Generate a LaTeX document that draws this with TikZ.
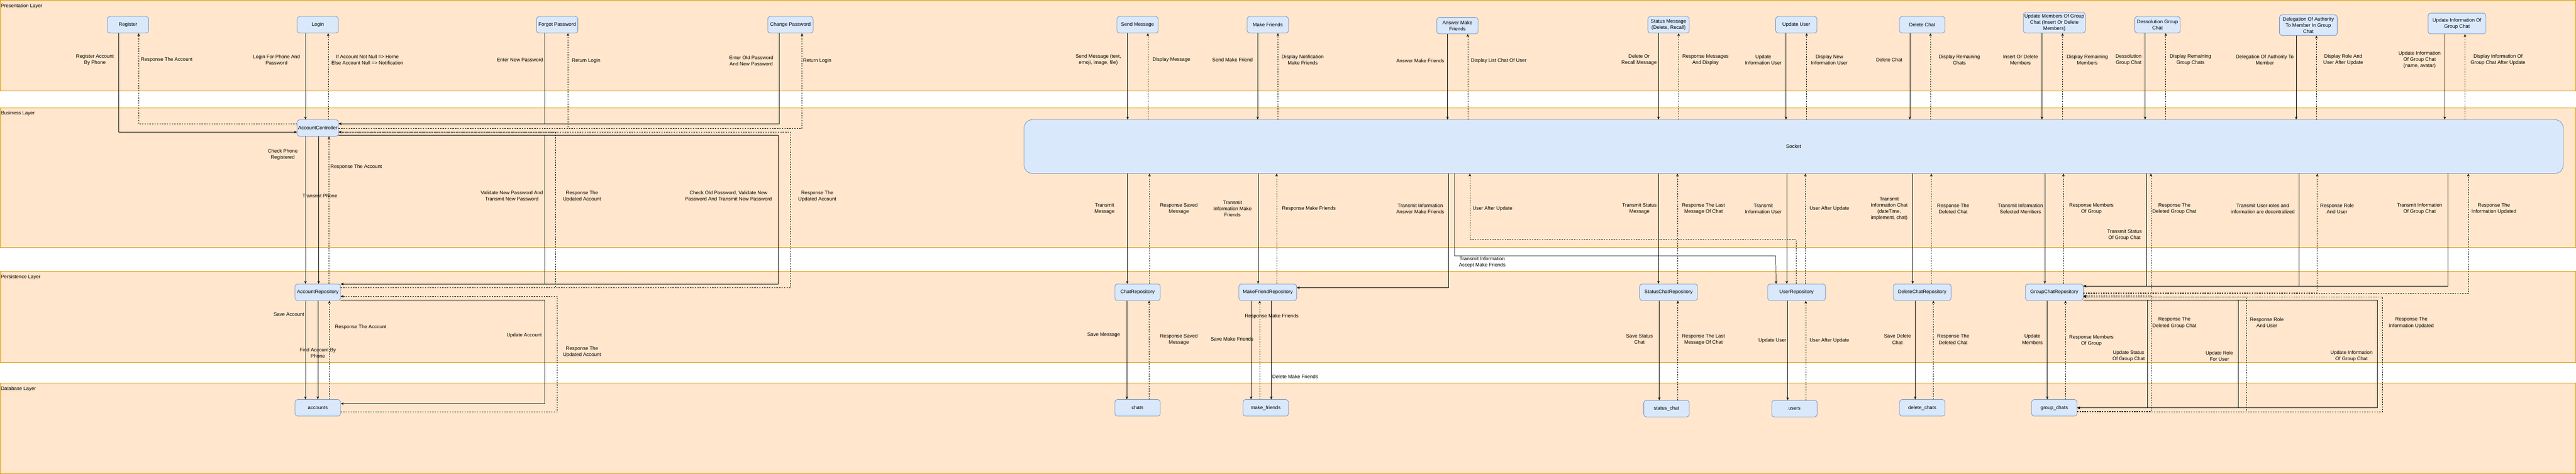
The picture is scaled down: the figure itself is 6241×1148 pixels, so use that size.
\documentclass[tikz,border=0pt]{standalone}
\usepackage{fontspec}
\setmainfont{Liberation Sans}
\usetikzlibrary{arrows.meta}
\definecolor{layerfill}{HTML}{FFE6CC}
\definecolor{layerline}{HTML}{D79B00}
\definecolor{boxfill}{HTML}{DAE8FC}
\definecolor{boxline}{HTML}{6C8EBF}
\newcommand{\dfont}{\fontsize{12}{15}\selectfont}
\newcommand{\elab}[4]{\node[lbl] (#1) at (#2,#3) {#4};}
\begin{document}
\begin{tikzpicture}[x=1pt,y=-1pt,
  layer/.style={draw=layerline, fill=layerfill, line width=1.2pt},
  box/.style={draw=boxline, fill=boxfill, rounded corners=6pt, line width=1pt, align=center, inner sep=0pt, font=\dfont, minimum height=40pt, minimum width=100pt},
  lbl/.style={align=center, inner sep=0pt, font=\dfont},
  flow/.style={draw=black, line width=0.9pt, -{Stealth[length=7pt,width=6pt]}},
  resp/.style={flow, dashed}]
\useasboundingbox (0,0) rectangle (6241,1148);
% layers
\path[layer] (0.6,0.6) rectangle (6240,220.5);
\path[layer] (0.6,261) rectangle (6240,600);
\path[layer] (0.6,657.5) rectangle (6240,878);
\path[layer] (0.6,927.5) rectangle (6240,1147.4);
\node[lbl, anchor=west] (Lpres) at (2,15) {Presentation Layer};
\node[lbl, anchor=west] (Lbus) at (2,275) {Business Layer};
\node[lbl, anchor=west] (Lper) at (2,672) {Persistence Layer};
\node[lbl, anchor=west] (Ldb) at (2,942) {Database Layer};
% presentation nodes
\node[box] (register) at (310,60) {Register};
\node[box] (login) at (770,60) {Login};
\node[box] (forgot) at (1350,60) {Forgot Password};
\node[box, minimum width=110pt] (changepw) at (1915,60) {Change Password};
\node[box] (sendmsg) at (2756,60) {Send Message};
\node[box] (makefr) at (3071.5,60) {Make Friends};
\node[box] (answer) at (3531,62) {Answer Make\\Friends};
\node[box] (status) at (4042.5,60) {Status Message\\(Delete, Recall)};
\node[box] (updateuser) at (4352,60) {Update User};
\node[box, minimum width=110pt] (deletechat) at (4657,60) {Delete Chat};
\node[box, minimum width=150pt, minimum height=50pt] (updmembers) at (4977,55) {Update Members Of Group\\Chat (Insert Or Delete\\Members)};
\node[box, minimum width=110pt] (dessolution) at (5227,60) {Dessolution Group\\Chat};
\node[box, minimum width=140pt, minimum height=50pt] (delegation) at (5592.5,61) {Delegation Of Authority\\To Member In Group\\Chat};
\node[box, minimum width=140pt, minimum height=50pt] (updinfo) at (5952.5,57) {Update Information Of\\Group Chat};
% business nodes
\node[box] (ac) at (770,310) {AccountController};
\node[box, rounded corners=20pt, minimum width=3729pt, minimum height=130pt] (socket) at (4345.5,355) {Socket};
% persistence nodes
\node[box, minimum width=110pt] (ar) at (770,708) {AccountRepository};
\node[box, minimum width=110pt] (chatrepo) at (2756,708) {ChatRepository};
\node[box, minimum width=140pt] (mfr) at (3071.5,708) {MakeFriendRepository};
\node[box, minimum width=140pt] (scr) at (4042.5,708) {StatusChatRepository};
\node[box, minimum width=140pt] (userrepo) at (4352.5,708) {UserRepository};
\node[box, minimum width=140pt] (dcr) at (4657,708) {DeleteChatRepository};
\node[box, minimum width=140pt] (gcr) at (4977,708) {GroupChatRepository};
% database nodes
\node[box, minimum width=110pt] (accounts) at (770,988) {accounts};
\node[box, minimum width=110pt] (chats) at (2756,988) {chats};
\node[box, minimum width=110pt] (makefriends) at (3066.5,988) {make\_friends};
\node[box, minimum width=110pt] (statuschat) at (4037.5,990) {status\_chat};
\node[box, minimum width=110pt] (users) at (4347.5,990) {users};
\node[box, minimum width=110pt] (deletechats) at (4657,988) {delete\_chats};
\node[box, minimum width=110pt] (groupchats) at (4977,988) {group\_chats};

% ===== account edges =====
\draw[flow] (register.south -| 288,0) |- (ac.west |- 0,320);
\draw[resp] (ac.west |- 0,300) -| (register.south -| 336,0);
\draw[flow] (login.south -| 740,0) -- (ac.north -| 740,0);
\draw[resp] (ac.north -| 795,0) -- (login.south -| 795,0);
\draw[flow] (forgot.south -| 1320,0) |- (ac.east |- 0,300);
\draw[resp] (ac.east |- 0,311) -| (forgot.south -| 1376,0);
\draw[flow] (changepw.south -| 1888,0) |- (ac.east |- 0,300);
\draw[resp] (ac.east |- 0,311) -| (changepw.south -| 1943,0);
\draw[flow] (ac.east |- 0,328) -| (1320,500) |- (ar.east |- 0,688);
\draw[resp] (ar.east |- 0,697) -| (1346,500) |- (ac.east |- 0,320);
\draw[flow] (ac.east |- 0,328) -| (1885,500) |- (ar.east |- 0,688);
\draw[resp] (ar.east |- 0,697) -| (1915,500) |- (ac.east |- 0,320);
\draw[flow] (ac.south -| 740,0) -- (ar.north -| 740,0);
\draw[flow] (ac.south -| 772,0) -- (ar.north -| 772,0);
\draw[resp] (ar.north -| 797,0) -- (ac.south -| 797,0);
\draw[flow] (ar.south -| 740,0) -- (accounts.north -| 740,0);
\draw[flow] (ar.south -| 770,0) -- (accounts.north -| 770,0);
\draw[resp] (accounts.north -| 798,0) -- (ar.south -| 798,0);
\draw[flow] (ar.east |- 0,727) -| (1320,850) |- (accounts.east |- 0,978);
\draw[resp] (accounts.east |- 0,998) -| (1350,850) |- (ar.east |- 0,718);

\elab{a1}{230}{145}{Register Account\\By Phone}
\elab{a2}{404}{145}{Response The Account}
\elab{a3}{670}{145}{Login For Phone And\\Password}
\elab{a4}{890}{145}{If Account Not Null => Home\\Else Account Null => Notification}
\elab{a5}{1260}{145}{Enter New Password}
\elab{a6}{1420}{147}{Return Login}
\elab{a7}{1820}{147}{Enter Old Password\\And New Password}
\elab{a8}{1980}{147}{Return Login}
\elab{a9}{1240}{475}{Validate New Password And\\Transmit New Password}
\elab{a10}{1410}{475}{Response The\\Updated Account}
\elab{a11}{1765}{475}{Check Old Password, Validate New\\Password And Transmit New Password}
\elab{a12}{1980}{475}{Response The\\Updated Account}
\elab{a13}{685}{375}{Check Phone\\Registered}
\elab{a14}{775}{475}{Transmit Phone}
\elab{a15}{863}{405}{Response The Account}
\elab{a16}{700}{762}{Save Account}
\elab{a17}{770}{855}{Find Account By\\Phone}
\elab{a18}{874}{792}{Response The Account}
\elab{a19}{1270}{812}{Update Account}
\elab{a20}{1410}{852}{Response The\\Updated Account}

% ===== chat =====
\draw[flow] (sendmsg.south -| 2732,0) -- (socket.north -| 2732,0);
\draw[resp] (socket.north -| 2781,0) -- (sendmsg.south -| 2781,0);
\draw[flow] (socket.south -| 2731,0) -- (chatrepo.north -| 2731,0);
\draw[resp] (chatrepo.north -| 2785,0) -- (socket.south -| 2785,0);
\draw[flow] (chatrepo.south -| 2730,0) -- (chats.north -| 2730,0);
\draw[resp] (chats.north -| 2784,0) -- (chatrepo.south -| 2784,0);
\elab{c1}{2661}{145}{Send Message (text,\\emoji, image, file)}
\elab{c2}{2838}{145}{Display Message}
\elab{c3}{2676}{505}{Transmit\\Message}
\elab{c4}{2856}{505}{Response Saved\\Message}
\elab{c5}{2674}{812}{Save Message}
\elab{c6}{2856}{822}{Response Saved\\Message}

% ===== make friends =====
\draw[flow] (makefr.south -| 3047,0) -- (socket.north -| 3047,0);
\draw[resp] (socket.north -| 3096,0) -- (makefr.south -| 3096,0);
\draw[flow] (socket.south -| 3048,0) -- (mfr.north -| 3048,0);
\draw[resp] (mfr.north -| 3093,0) -- (socket.south -| 3093,0);
\draw[flow] (mfr.south -| 3031,0) -- (makefriends.north -| 3031,0);
\draw[resp] (makefriends.north -| 3052,0) -- (mfr.south -| 3052,0);
\draw[flow] (mfr.south -| 3080,0) -- (makefriends.north -| 3080,0);
\elab{m1}{2986}{145}{Send Make Friend}
\elab{m2}{3156}{145}{Display Notification\\Make Friends}
\elab{m3}{2986}{505}{Transmit\\Information Make\\Friends}
\elab{m4}{3171}{505}{Response Make Friends}
\elab{m5}{2985}{822}{Save Make Friends}
\elab{m6}{3081}{767}{Response Make Friends}
\elab{m7}{3138}{912}{Delete Make Friends}

% ===== answer make friends =====
\draw[flow] (answer.south -| 3507,0) -- (socket.north -| 3507,0);
\draw[resp] (socket.north -| 3556,0) -- (answer.south -| 3556,0);
\draw[flow] (socket.south -| 3509,0) |- (mfr.east |- 0,697);
\draw[flow] (socket.south -| 3524,0) |- (4302,620) -- (userrepo.north -| 4303,0);
\draw[resp] (userrepo.north -| 4351,0) |- (3561,580) -- (socket.south -| 3561,0);
\elab{n1}{3441}{147}{Answer Make Friends}
\elab{n2}{3631}{147}{Display List Chat Of User}
\elab{n3}{3441}{505}{Transmit Information\\Answer Make Friends}
\elab{n4}{3591}{635}{Transmit Information\\Accept Make Friends}
\elab{n5}{3616}{505}{User After Update}

% ===== status message =====
\draw[flow] (status.south -| 4018,0) -- (socket.north -| 4018,0);
\draw[resp] (socket.north -| 4067,0) -- (status.south -| 4067,0);
\draw[flow] (socket.south -| 4018,0) -- (scr.north -| 4018,0);
\draw[resp] (scr.north -| 4064,0) -- (socket.south -| 4064,0);
\draw[flow] (scr.south -| 4020,0) -- (statuschat.north -| 4020,0);
\draw[resp] (statuschat.north -| 4065,0) -- (scr.south -| 4065,0);
\elab{s1}{3971}{145}{Delete Or\\Recall Message}
\elab{s2}{4132}{145}{Response Messages\\And Display}
\elab{s3}{3972}{505}{Transmit Status\\Message}
\elab{s4}{4127}{505}{Response The Last\\Message Of Chat}
\elab{s5}{3972}{822}{Save Status\\Chat}
\elab{s6}{4127}{822}{Response The Last\\Message Of Chat}

% ===== update user =====
\draw[flow] (updateuser.south -| 4327,0) -- (socket.north -| 4327,0);
\draw[resp] (socket.north -| 4377,0) -- (updateuser.south -| 4377,0);
\draw[flow] (socket.south -| 4329,0) -- (userrepo.north -| 4329,0);
\draw[resp] (userrepo.north -| 4374,0) -- (socket.south -| 4374,0);
\draw[flow] (userrepo.south -| 4331,0) -- (users.north -| 4331,0);
\draw[resp] (users.north -| 4375,0) -- (userrepo.south -| 4375,0);
\elab{u1}{4272}{145}{Update\\Information User}
\elab{u2}{4432}{145}{Display New\\Information User}
\elab{u3}{4272}{505}{Transmit\\Information User}
\elab{u4}{4432}{505}{User After Update}
\elab{u5}{4294}{825}{Update User}
\elab{u6}{4432}{825}{User After Update}

% ===== delete chat =====
\draw[flow] (deletechat.south -| 4627,0) -- (socket.north -| 4627,0);
\draw[resp] (socket.north -| 4677,0) -- (deletechat.south -| 4677,0);
\draw[flow] (socket.south -| 4634,0) -- (dcr.north -| 4634,0);
\draw[resp] (dcr.north -| 4679,0) -- (socket.south -| 4679,0);
\draw[flow] (dcr.south -| 4640,0) -- (deletechats.north -| 4640,0);
\draw[resp] (deletechats.north -| 4684,0) -- (dcr.south -| 4684,0);
\elab{d1}{4577}{145}{Delete Chat}
\elab{d2}{4747}{145}{Display Remaining\\Chats}
\elab{d3}{4577}{505}{Transmit\\Information Chat\\(dateTime,\\implement, chat)}
\elab{d4}{4732}{505}{Response The\\Deleted Chat}
\elab{d5}{4597}{822}{Save Delete\\Chat}
\elab{d6}{4732}{822}{Response The\\Deleted Chat}

% ===== update members =====
\draw[flow] (updmembers.south -| 4947,0) -- (socket.north -| 4947,0);
\draw[resp] (socket.north -| 4997,0) -- (updmembers.south -| 4997,0);
\draw[flow] (socket.south -| 4954,0) -- (gcr.north -| 4954,0);
\draw[resp] (gcr.north -| 4999,0) -- (socket.south -| 4999,0);
\draw[flow] (gcr.south -| 4960,0) -- (groupchats.north -| 4960,0);
\draw[resp] (groupchats.north -| 5004,0) -- (gcr.south -| 5004,0);
\elab{g1}{4895}{145}{Insert Or Delete\\Members}
\elab{g2}{5057}{145}{Display Remaining\\Members}
\elab{g3}{4895}{505}{Transmit Information\\Selected Members}
\elab{g4}{5067}{505}{Response Members\\Of Group}
\elab{g5}{4924}{822}{Update\\Members}
\elab{g6}{5067}{825}{Response Members\\Of Group}

% ===== dessolution =====
\draw[flow] (dessolution.south -| 5197,0) -- (socket.north -| 5197,0);
\draw[resp] (socket.north -| 5247,0) -- (dessolution.south -| 5247,0);
\draw[flow] (socket.south -| 5200,0) |- (gcr.east |- 0,693);
\draw[resp] (gcr.east |- 0,709) -| (socket.south -| 5211,0);
\draw[flow] (gcr.east |- 0,727) -| (5203,850) |- (groupchats.east |- 0,988);
\draw[resp] (groupchats.east |- 0,997) -| (5211,850) |- (gcr.east |- 0,717);
\elab{h1}{5157}{145}{Dessolution\\Group Chat}
\elab{h2}{5307}{145}{Display Remaining\\Group Chats}
\elab{h3}{5147}{569}{Transmit Status\\Of Group Chat}
\elab{h4}{5268}{505}{Response The\\Deleted Group Chat}
\elab{h5}{5157}{862}{Update Status\\Of Group Chat}
\elab{h6}{5268}{782}{Response The\\Deleted Group Chat}

% ===== delegation =====
\draw[flow] (delegation.south -| 5563,0) -- (socket.north -| 5563,0);
\draw[resp] (socket.north -| 5612,0) -- (delegation.south -| 5612,0);
\draw[flow] (socket.south -| 5570,0) |- (gcr.east |- 0,693);
\draw[resp] (gcr.east |- 0,709) -| (socket.south -| 5614,0);
\draw[flow] (gcr.east |- 0,727) -| (5423,850) |- (groupchats.east |- 0,988);
\draw[resp] (groupchats.east |- 0,998) -| (5443,850) |- (gcr.east |- 0,719);
\elab{e1}{5487}{145}{Delegation Of Authority To\\Member}
\elab{e2}{5677}{145}{Display Role And\\User After Update}
\elab{e3}{5482}{505}{Transmit User roles and\\information are decentralized}
\elab{e4}{5662}{505}{Response Role\\And User}
\elab{e5}{5377}{862}{Update Role\\For User}
\elab{e6}{5492}{782}{Response Role\\And User}

% ===== update info group =====
\draw[flow] (updinfo.south -| 5923,0) -- (socket.north -| 5923,0);
\draw[resp] (socket.north -| 5972,0) -- (updinfo.south -| 5972,0);
\draw[flow] (socket.south -| 5931,0) |- (gcr.east |- 0,693);
\draw[resp] (gcr.east |- 0,711) -| (socket.south -| 5980,0);
\draw[flow] (gcr.east |- 0,727) -| (5759,850) |- (groupchats.east |- 0,988);
\draw[resp] (groupchats.east |- 0,998) -| (5772,850) |- (gcr.east |- 0,719);
\elab{f1}{5862}{145}{Update Information\\Of Group Chat\\(name, avatar)}
\elab{f2}{6052}{145}{Display Information Of\\Group Chat After Update}
\elab{f3}{5862}{505}{Transmit Information\\Of Group Chat}
\elab{f4}{6042}{505}{Response The\\Information Updated}
\elab{f5}{5697}{862}{Update Information\\Of Group Chat}
\elab{f6}{5842}{782}{Response The\\Information Updated}
\end{tikzpicture}
\end{document}
